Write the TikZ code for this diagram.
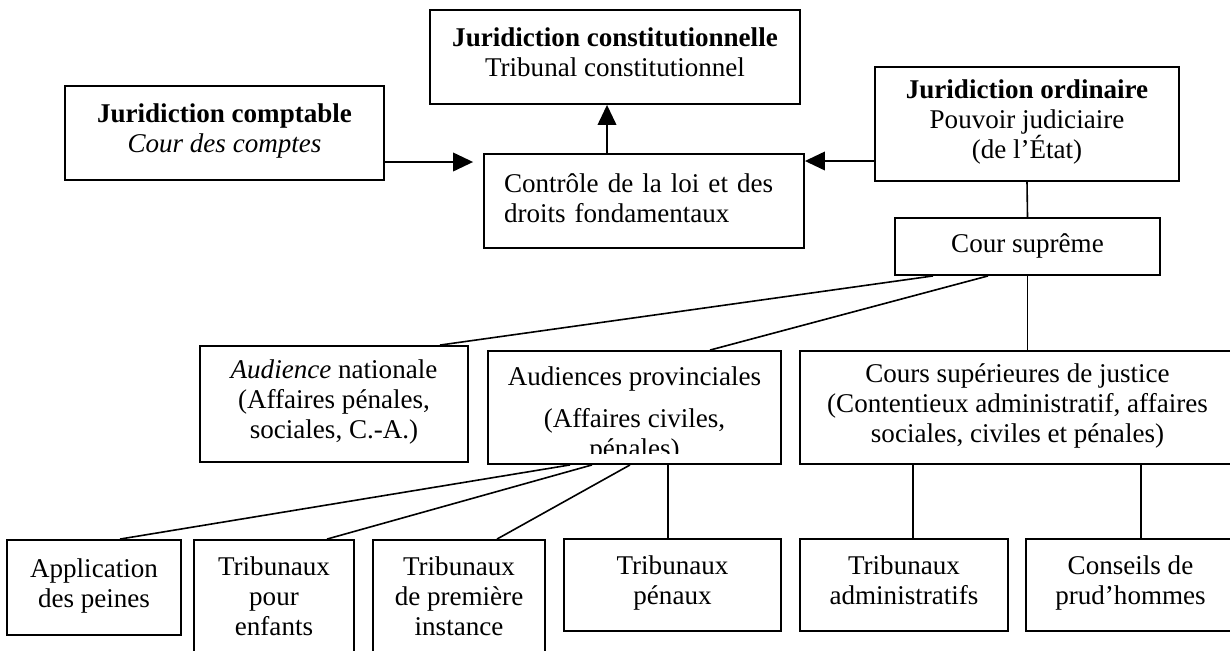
\documentclass[tikz,border=0pt]{standalone}
\usepackage{fontspec}
\setmainfont{Liberation Serif}
\usetikzlibrary{arrows.meta,calc}
\begin{document}
\begin{tikzpicture}[x=0.75pt,y=-0.75pt,
  every node/.style={font=\fontsize{20.3pt}{22.5pt}\selectfont},
  bx/.style 2 args={draw,line width=1.4pt,rectangle,inner sep=0pt,align=center,
    minimum width=#1*0.75pt,minimum height=#2*0.75pt,
    execute at begin node=\strut,execute at end node=\strut},
  ln/.style={line width=1.2pt},
  arr/.style={line width=1.2pt,-{Triangle[length=15pt,width=14pt]}},
  txt/.style={anchor=base,inner sep=0pt}]
\path[use as bounding box,clip] (0,0) rectangle (1230,650);
% boxes
\node[bx={370}{94}] (cons) at (615,57) {\textbf{Juridiction constitutionnelle}\\Tribunal constitutionnel};
\node[bx={319}{94}] (comp) at (224.5,133) {\textbf{Juridiction comptable}\\\textit{Cour des comptes}};
\node[draw,line width=1.4pt,rectangle,inner xsep=15pt,inner ysep=0pt,text width=210pt,
  align=left,minimum height=94*0.75pt,
  execute at begin node=\strut,execute at end node=\strut] (ctrl) at (644,201) {Contrôle de la loi et des\\droits fondamentaux};
\node[bx={304}{114}] (ord) at (1027,124) {\textbf{Juridiction ordinaire}\\Pouvoir judiciaire\\(de l’État)};
\node[bx={265}{57}] (cs) at (1027.5,246.5) {Cour suprême};
\node[bx={268}{116}] (an) at (334,404) {\textit{Audience} nationale\\(Affaires pénales,\\sociales, C.-A.)};
\node[bx={293}{113}] (prov) at (634.5,407.5) {};
\begin{scope}
  \clip (488,351) rectangle (781,453);
  \node[txt] (provA) at (634.5,385) {Audiences provinciales};
  \node[txt] (provB) at (634.5,427) {(Affaires civiles,};
  \node[txt] (provC) at (634.5,457) {pénales)};
\end{scope}
\node[bx={435}{113}] (csup) at (1017.5,407.5) {Cours supérieures de justice\\(Contentieux administratif, affaires\\sociales, civiles et pénales)};
\node[bx={174}{95}] (app) at (94,587.5) {Application\\des peines};
\node[bx={160}{122}] (enf) at (274,601) {Tribunaux\\pour\\enfants};
\node[bx={172}{122}] (inst) at (459,601) {Tribunaux\\de première\\instance};
\node[bx={217}{92}] (pen) at (672.5,585) {Tribunaux\\pénaux};
\node[bx={208}{92}] (adm) at (904,585) {Tribunaux\\administratifs};
\node[bx={209}{92}] (cpr) at (1130.5,585) {Conseils de\\prud’hommes};
% arrows
\draw[arr,shorten >=7.5pt] ($(comp.east)+(0,29)$) coordinate (p1) -- (p1 -| ctrl.west);
\draw[arr] ($(ord.west)+(0,37)$) coordinate (p2) -- (p2 -| ctrl.east);
\draw[arr] ($(ctrl.north)+(-37,0)$) coordinate (p3) -- (p3 |- cons.south);
% lines
\draw[ln] (ord.south) -- (cs.north);
\draw[ln] ($(cs.south)+(-94.5,0)$) -- ($(an.north)+(106,0)$);
\draw[ln] ($(cs.south)+(-39.5,0)$) -- ($(prov.north)+(75.5,0)$);
\draw[ln] (cs.south) -- (cs.south |- csup.north);
\draw[ln] ($(prov.south)+(-64.5,0)$) -- ($(app.north)+(26,0)$);
\draw[ln] ($(prov.south)+(-42.5,0)$) -- ($(enf.north)+(53,0)$);
\draw[ln] ($(prov.south)+(-4.5,0)$) -- ($(inst.north)+(38,0)$);
\draw[ln] ($(prov.south)+(33.5,0)$) coordinate (p4) -- (p4 |- pen.north);
\draw[ln] ($(csup.south)+(-104.5,0)$) coordinate (p5) -- (p5 |- adm.north);
\draw[ln] ($(csup.south)+(123.5,0)$) coordinate (p6) -- (p6 |- cpr.north);
\end{tikzpicture}
\end{document}
